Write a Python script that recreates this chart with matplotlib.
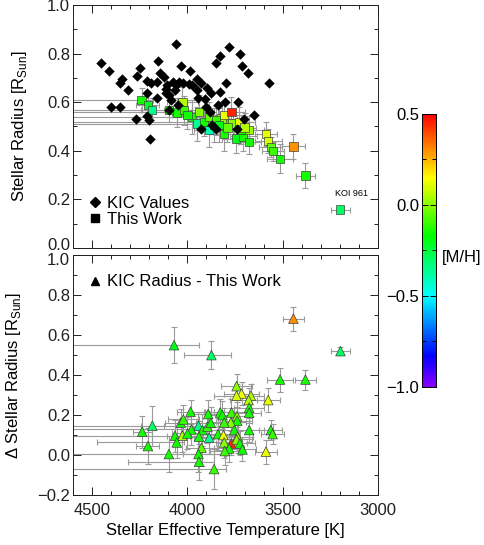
import numpy as np
import matplotlib
matplotlib.use("Agg")
import matplotlib.pyplot as plt
import matplotlib.transforms as mtransforms
from matplotlib.colors import LinearSegmentedColormap
from matplotlib.lines import Line2D
from matplotlib.ticker import MultipleLocator

plt.rcParams['font.family'] = ['Liberation Sans', 'DejaVu Sans']
plt.rcParams['mathtext.fontset'] = 'custom'
plt.rcParams['mathtext.rm'] = 'Liberation Sans'

# ------------------------
# KIC values (top panel, black diamonds)
# ------------------------
kic_teff = [4451, 4411, 4400, 4351, 4342, 4351, 4309, 4267, 4263, 4249, 4214, 4214,
            4190, 4212, 4200, 4197, 4161, 4154, 4158, 4146, 4123, 4114, 4105, 4112,
            4097, 4084, 4074, 4060, 4067, 4061, 4044, 4035, 4021, 4095, 4049, 3986,
            3974, 3947, 3947, 3944, 3930, 3930, 3909, 3904, 3877, 3870, 3851, 3849,
            3828, 3828, 3842, 3802, 3798, 3781, 3737, 3740, 3725, 3711, 3702, 3681,
            3649, 3572, 3898, 3990, 3880]
kic_rad = [0.759, 0.729, 0.578, 0.578, 0.697, 0.680, 0.649, 0.530, 0.707, 0.739, 0.686, 0.638,
           0.680, 0.542, 0.525, 0.450, 0.619, 0.769, 0.684, 0.721, 0.704, 0.656, 0.670, 0.638,
           0.629, 0.608, 0.684, 0.839, 0.649, 0.670, 0.684, 0.748, 0.677, 0.567, 0.590, 0.729,
           0.670, 0.697, 0.649, 0.619, 0.680, 0.491, 0.611, 0.580, 0.638, 0.505, 0.491, 0.759,
           0.790, 0.642, 0.587, 0.601, 0.680, 0.828, 0.601, 0.491, 0.798, 0.748, 0.532, 0.721,
           0.549, 0.677, 0.659, 0.675, 0.560]

# ------------------------
# This work (top panel, squares)
# err_hot: error bar toward higher Teff, err_cool: toward lower Teff
# ------------------------
tw_teff = [4240, 4207, 4184, 4097, 4053, 4026, 4018, 3977, 3939, 3947, 3912, 3886,
           3886, 3860, 3821, 3807, 3807, 3769, 3763, 3746, 3728, 3707, 3676, 3676,
           3588, 3576, 3562, 3551, 3514, 3444, 3381, 3198, 4000, 3850, 3790, 3720,
           3700, 3835]
tw_rad = [0.608, 0.587, 0.569, 0.569, 0.558, 0.601, 0.567, 0.539, 0.560, 0.512, 0.519, 0.539,
          0.484, 0.505, 0.532, 0.546, 0.470, 0.560, 0.512, 0.450, 0.519, 0.459, 0.484, 0.436,
          0.468, 0.439, 0.415, 0.398, 0.367, 0.418, 0.298, 0.158, 0.548, 0.525, 0.495, 0.488,
          0.495, 0.505]
tw_mh = [-0.15, -0.2, -0.35, -0.15, -0.15, 0.05, -0.1, -0.15, 0.0, -0.35, -0.15, -0.05,
         -0.4, -0.15, 0.0, 0.12, -0.15, 0.45, 0.0, -0.2, 0.12, -0.15, 0.02, -0.15,
         0.12, 0.1, -0.05, -0.1, -0.15, 0.3, -0.15, -0.3, -0.15, -0.1, -0.05, -0.15,
         0.05, -0.2]
tw_err_hot = [400, 60, 60, 600, 600, 80, 80, 700, 70, 700, 700, 80,
              80, 80, 80, 80, 80, 70, 80, 70, 80, 70, 80, 60,
              60, 70, 60, 60, 70, 60, 50, 50, 80, 70, 80, 60,
              60, 70]
tw_err_cool = [60, 60, 60, 70, 70, 80, 80, 60, 70, 60, 60, 80,
               80, 80, 80, 80, 80, 70, 80, 70, 80, 70, 80, 60,
               60, 70, 60, 60, 70, 60, 50, 50, 80, 70, 80, 60,
               60, 70]
tw_rerr = [0.05, 0.05, 0.05, 0.05, 0.06, 0.06, 0.06, 0.07, 0.07, 0.07, 0.06, 0.06,
           0.07, 0.07, 0.07, 0.06, 0.07, 0.06, 0.06, 0.06, 0.06, 0.06, 0.06, 0.05,
           0.05, 0.05, 0.04, 0.04, 0.06, 0.05, 0.05, 0.015, 0.06, 0.06, 0.06, 0.06,
           0.06, 0.07]

# ------------------------
# KIC radius - this work (bottom panel, triangles)
# ------------------------
d_teff = [4070, 3874, 3444, 3197, 3514, 3381, 3742, 3716, 3742, 3667, 3679, 3576,
          3676, 3676, 3983, 3891, 3828, 3816, 3769, 3740, 3739, 3772, 3807, 4035,
          4021, 3942, 4184, 4237, 3979, 3921, 3895, 3877, 3754, 3676, 3562, 3553,
          4065, 4026, 4000, 3939, 3886, 3839, 3811, 3737, 4056, 3807, 3769, 3742,
          3725, 4207, 3926, 3781, 3711, 3804, 4097, 3942, 3588, 3939, 3860]
d_rad = [0.55, 0.50, 0.683, 0.52, 0.378, 0.378, 0.345, 0.308, 0.297, 0.297, 0.275, 0.275,
         0.237, 0.212, 0.217, 0.205, 0.213, 0.200, 0.213, 0.195, 0.172, 0.163, 0.163, 0.162,
         0.178, 0.147, 0.147, 0.117, 0.128, 0.125, 0.142, 0.162, 0.125, 0.125, 0.125, 0.105,
         0.097, 0.097, 0.108, 0.092, 0.087, 0.105, 0.100, 0.092, 0.063, 0.063, 0.058, 0.078,
         0.058, 0.045, 0.037, 0.033, 0.028, 0.020, 0.005, 0.005, 0.017, -0.033, -0.070]
d_mh = [-0.2, -0.3, 0.3, -0.3, -0.15, -0.15, 0.0, 0.12, 0.1, 0.05, 0.05, 0.12,
        -0.15, -0.15, -0.15, -0.15, -0.15, -0.15, -0.1, 0.0, -0.15, 0.0, -0.1, -0.15,
        -0.1, -0.35, -0.3, -0.15, -0.15, -0.15, -0.1, -0.15, -0.15, -0.15, -0.15, -0.1,
        -0.15, 0.05, -0.15, -0.15, -0.35, -0.15, 0.12, 0.0, -0.15, 0.0, 0.45, 0.0,
        -0.15, -0.15, -0.05, -0.15, -0.15, -0.1, -0.15, -0.15, 0.12, -0.15, -0.1]
d_err_hot = [600, 144, 57, 48, 66, 55, 80, 90, 120, 90, 100, 60,
             80, 100, 70, 80, 80, 80, 90, 80, 80, 80, 80, 80,
             80, 700, 60, 50, 700, 80, 80, 80, 80, 80, 60, 60,
             700, 80, 80, 80, 80, 80, 80, 80, 420, 80, 80, 80,
             80, 60, 80, 80, 70, 80, 600, 80, 60, 370, 800]
d_err_cool = [130, 102, 57, 48, 66, 55, 80, 90, 80, 70, 80, 60,
              80, 60, 70, 70, 70, 80, 80, 80, 80, 80, 80, 80,
              80, 47, 60, 50, 50, 80, 80, 80, 80, 80, 60, 60,
              80, 80, 80, 80, 80, 80, 80, 80, 40, 80, 80, 80,
              80, 60, 80, 80, 70, 80, 300, 80, 60, 80, 60]
d_err = [0.09, 0.07, 0.06, 0.02, 0.06, 0.05, 0.06, 0.06, 0.06, 0.06, 0.06, 0.06,
         0.05, 0.05, 0.06, 0.07, 0.07, 0.07, 0.07, 0.07, 0.07, 0.07, 0.07, 0.07,
         0.07, 0.07, 0.10, 0.08, 0.08, 0.08, 0.08, 0.08, 0.06, 0.06, 0.05, 0.05,
         0.08, 0.08, 0.08, 0.08, 0.08, 0.08, 0.08, 0.08, 0.08, 0.08, 0.06, 0.06,
         0.06, 0.09, 0.09, 0.07, 0.06, 0.07, 0.09, 0.09, 0.06, 0.09, 0.10]

# ------------------------
# Colour map for [M/H]
# ------------------------
mh_min, mh_max = -1.0, 0.5
stops = [(-1.0, '#8a00ff'), (-0.83, '#0000ff'), (-0.5, '#00ffff'),
         (-0.17, '#00ff00'), (0.15, '#ffff00'), (0.3, '#ff9000'), (0.5, '#ff0000')]
cmap = LinearSegmentedColormap.from_list(
    'mh', [((v - mh_min) / (mh_max - mh_min), c) for v, c in stops])

fig = plt.figure(figsize=(4.85, 5.45), dpi=100)
ax1 = fig.add_axes([0.1505, 0.545, 0.629, 0.446])
ax2 = fig.add_axes([0.1505, 0.0917, 0.629, 0.440])
cax = fig.add_axes([0.870, 0.290, 0.030, 0.501])

fs = 12
err_kw = dict(fmt='none', ecolor='#9a9a9a', elinewidth=0.8, capsize=2, capthick=0.8, zorder=1)

# top panel (inverted x axis: lower error = cooler side)
ax1.errorbar(tw_teff, tw_rad, xerr=[tw_err_cool, tw_err_hot], yerr=tw_rerr, **err_kw)
ax1.scatter(tw_teff, tw_rad, c=tw_mh, cmap=cmap, vmin=mh_min, vmax=mh_max, marker='s',
            s=36, edgecolors='#404040', linewidths=0.5, zorder=2)
ax1.scatter(kic_teff, kic_rad, c='black', marker='D', s=28, linewidths=0, zorder=3)
ax1.text(3140, 0.225, 'KOI 961', fontsize=6.5, ha='center', va='center')

h1 = [Line2D([], [], ls='none', marker='D', color='black', ms=5.5),
      Line2D([], [], ls='none', marker='s', color='black', ms=6)]
ax1.legend(h1, ['KIC Values', 'This Work'], loc='lower left', bbox_to_anchor=(0.05, 0.085),
           frameon=False, fontsize=fs, handlelength=0.8, handletextpad=0.35,
           labelspacing=0.1, borderpad=0, borderaxespad=0)

# bottom panel
ax2.errorbar(d_teff, d_rad, xerr=[d_err_cool, d_err_hot], yerr=d_err, **err_kw)
ax2.scatter(d_teff, d_rad, c=d_mh, cmap=cmap, vmin=mh_min, vmax=mh_max, marker='^',
            s=48, edgecolors='#404040', linewidths=0.5, zorder=2)
h2 = [Line2D([], [], ls='none', marker='^', color='black', ms=6)]
ax2.legend(h2, ['KIC Radius - This Work'], loc='upper left', bbox_to_anchor=(0.05, 0.92),
           frameon=False, fontsize=fs, handlelength=0.8, handletextpad=0.35,
           borderpad=0, borderaxespad=0)

for ax in (ax1, ax2):
    ax.set_xlim(4600, 3000)
    ax.xaxis.set_major_locator(MultipleLocator(500))
    ax.xaxis.set_minor_locator(MultipleLocator(100))
    ax.yaxis.set_major_locator(MultipleLocator(0.2))
    ax.yaxis.set_minor_locator(MultipleLocator(0.1))
    ax.tick_params(which='both', direction='in', top=True, right=True, labelsize=fs,
                   width=0.7, colors='#202020', pad=2)
    ax.tick_params(which='major', length=6)
    ax.tick_params(which='minor', length=3)
    for sp in ax.spines.values():
        sp.set_linewidth(0.7)
        sp.set_color('#202020')

ax1.set_ylim(0, 1.0)
ax1.tick_params(labelbottom=False)
ax1.set_ylabel(r'Stellar Radius [R$_{\rm Sun}$]', fontsize=fs, labelpad=13)
ax2.set_ylim(-0.2, 1.0)
ax2.set_ylabel('\u0394 Stellar Radius [R$_{\\rm Sun}$]', fontsize=fs, labelpad=10)
ax2.set_xlabel('Stellar Effective Temperature [K]', fontsize=fs, labelpad=3)
ax2.tick_params(axis='x', pad=6)

# nudge the touching "0.0" (top) and "1.0" (bottom) labels apart a little
fig.canvas.draw()
for lab in ax1.get_yticklabels():
    if lab.get_text() == '0.0':
        lab.set_transform(lab.get_transform() +
                          mtransforms.ScaledTranslation(0, 3 / 72, fig.dpi_scale_trans))
for lab in ax2.get_yticklabels():
    if lab.get_text() == '1.0':
        lab.set_transform(lab.get_transform() +
                          mtransforms.ScaledTranslation(0, -3 / 72, fig.dpi_scale_trans))

# colour bar
sm = plt.cm.ScalarMappable(cmap=cmap, norm=plt.Normalize(mh_min, mh_max))
cb = fig.colorbar(sm, cax=cax)
cb.set_ticks([-1.0, -0.5, 0.0, 0.5])
cb.ax.yaxis.set_minor_locator(MultipleLocator(0.25))
cb.outline.set_linewidth(0.7)
cax.yaxis.tick_left()
cax.tick_params(which='both', direction='in', left=True, right=True, labelleft=True,
                labelright=False, labelsize=fs, width=0.7, pad=2)
cax.tick_params(which='major', length=4)
cax.tick_params(which='minor', length=3)
cax.set_ylabel('[M/H]', rotation=0, fontsize=fs, va='center', ha='left', labelpad=4)
cax.yaxis.set_label_position('right')

fig.savefig('out.png', dpi=100)
